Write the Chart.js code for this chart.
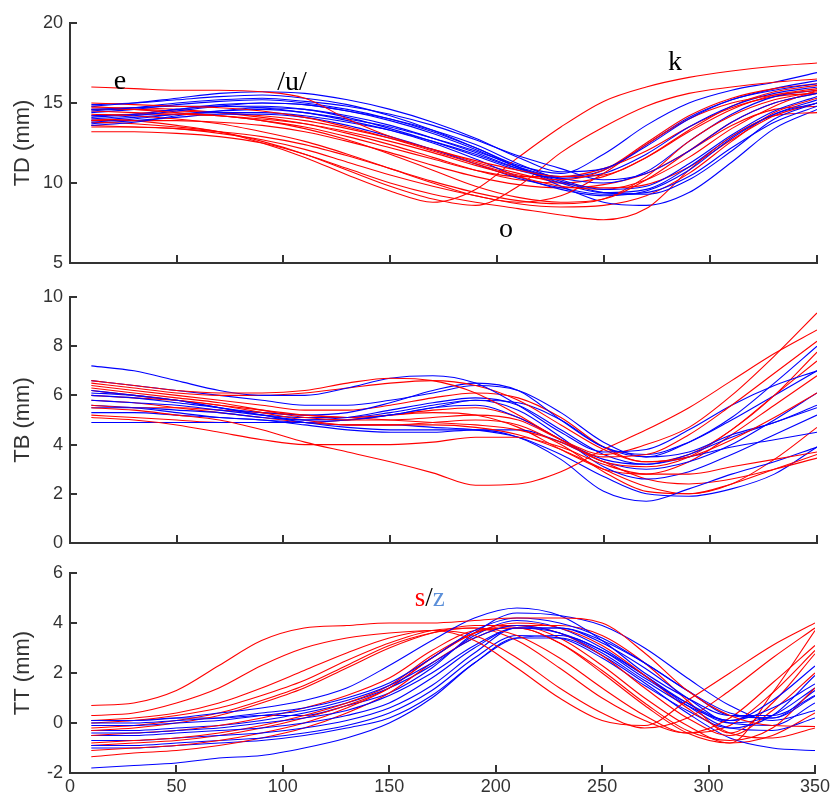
<!DOCTYPE html>
<html><head><meta charset="utf-8">
<script src="https://cdn.jsdelivr.net/npm/chart.js@4/dist/chart.umd.min.js"></script>
<style>
html,body{margin:0;padding:0;background:#fff;width:833px;height:793px;overflow:hidden}
canvas{position:absolute;left:0}
</style></head><body>
<canvas id="c1" style="top:0px" width="833" height="283"></canvas>
<canvas id="c2" style="top:278px" width="833" height="285"></canvas>
<canvas id="c3" style="top:555px" width="833" height="240"></canvas>
<script>
const xs = [10,30,50,70,90,110,130,150,170,190,210,230,250,270,290,310,330,350];
const xTicks = [0,50,100,150,200,250,300,350];
const tdTicks = [5,10,15,20];
const tbTicks = [0,2,4,6,8,10];
const ttTicks = [-2,0,2,4,6];

const tdRed = [
 [16.0,15.9,15.8,15.8,15.7,15.3,14.0,12.9,12.1,11.4,10.8,10.4,10.5,11.6,13.2,14.6,15.5,15.9],
 [15.0,14.9,14.8,14.7,14.5,14.1,13.5,12.8,12.0,11.2,10.5,10.2,10.8,12.5,14.2,15.3,15.9,16.2],
 [14.8,14.6,14.4,14.2,13.9,13.4,12.7,11.8,10.8,9.8,9.1,8.8,9.0,10.2,12.0,13.8,15.0,15.6],
 [14.5,14.4,14.3,14.2,14.0,13.7,13.2,12.6,11.9,11.1,10.4,9.8,9.6,10.2,11.6,13.4,14.8,15.8],
 [14.3,14.2,14.0,13.7,13.2,12.6,11.8,10.9,10.0,9.2,8.8,9.2,10.6,12.4,14.0,15.0,15.5,15.8],
 [14.0,13.9,13.6,13.2,12.5,11.6,10.5,9.5,8.8,9.6,11.6,13.5,15.1,16.0,16.6,17.0,17.3,17.5],
 [13.8,13.7,13.5,13.2,12.6,11.8,10.8,9.8,9.0,8.6,9.8,11.9,13.5,14.8,15.6,16.0,16.3,16.5],
 [13.6,13.5,13.4,13.2,12.9,12.4,11.7,10.9,10.1,9.4,8.9,8.7,9.0,10.4,12.6,14.2,15.2,15.7],
 [13.2,13.2,13.1,12.9,12.5,11.8,10.9,10.0,9.3,8.8,8.4,8.0,7.7,8.4,10.8,12.9,14.2,14.4],
 [13.9,13.9,13.9,13.8,13.6,13.2,12.6,11.9,11.1,10.4,9.9,9.7,9.9,10.6,12.0,13.6,14.6,14.8],
 [14.2,14.3,14.3,14.2,13.9,13.5,12.9,12.2,11.5,10.8,10.4,10.4,10.9,12.0,13.5,14.7,15.4,15.6],
 [14.6,14.6,14.5,14.4,14.2,13.9,13.4,12.8,12.1,11.3,10.6,10.0,9.7,9.9,11.0,12.7,14.2,15.0],
 [13.5,13.5,13.4,13.1,12.7,12.1,11.3,10.5,9.8,9.2,8.7,8.5,8.6,9.2,10.6,12.6,14.4,15.3],
 [14.7,14.7,14.6,14.4,14.1,13.7,13.1,12.4,11.6,10.8,10.2,10.0,10.4,11.6,13.3,14.8,15.7,16.1]
];
const tdBlue = [
 [14.8,15.0,15.3,15.6,15.7,15.6,15.2,14.6,13.8,12.8,11.6,10.7,10.9,12.3,14.0,15.2,15.8,16.2],
 [14.5,14.7,15.0,15.2,15.3,15.1,14.8,14.3,13.6,12.7,11.7,10.9,10.2,10.6,12.0,13.8,15.0,15.6],
 [14.0,14.2,14.5,14.8,15.0,14.9,14.5,14.0,13.3,12.4,11.2,10.2,9.6,9.8,11.2,13.0,14.5,15.4],
 [13.6,13.8,14.2,14.5,14.7,14.6,14.2,13.6,12.8,11.9,10.9,10.1,9.4,9.3,10.2,12.0,14.0,15.0],
 [14.2,14.3,14.6,14.8,14.8,14.6,14.1,13.4,12.6,11.7,10.8,10.3,10.6,11.8,13.5,14.8,15.6,16.0],
 [13.8,14.0,14.3,14.4,14.4,14.2,13.8,13.3,12.6,11.8,10.9,10.4,10.8,12.4,14.1,15.2,15.9,16.4],
 [14.6,14.7,14.8,14.8,14.7,14.4,13.9,13.3,12.5,11.5,10.4,9.6,9.2,9.5,10.8,12.8,14.3,15.0],
 [13.7,13.9,14.1,14.3,14.3,14.1,13.6,12.9,12.1,11.2,10.3,9.7,9.3,9.4,10.4,12.2,13.8,14.8],
 [14.1,14.3,14.6,14.9,15.0,14.9,14.5,13.9,13.1,12.1,11.0,10.3,10.0,10.7,12.6,14.3,15.4,15.8],
 [14.9,15.0,15.2,15.4,15.5,15.3,14.9,14.2,13.3,12.2,11.0,10.0,9.4,9.6,11.0,12.9,14.3,15.2],
 [13.9,14.1,14.3,14.5,14.6,14.4,14.0,13.5,12.8,12.0,11.0,9.8,8.8,8.6,9.4,11.3,13.4,14.6],
 [14.4,14.6,14.9,15.1,15.2,15.0,14.6,14.0,13.2,12.2,11.1,10.6,11.8,13.6,15.0,15.8,16.3,16.9]
];

const tbRed = [
 [6.6,6.4,6.2,6.1,6.1,6.2,6.5,6.7,6.6,6.1,5.2,4.2,3.5,3.6,4.4,5.6,6.9,8.2],
 [6.5,6.3,6.1,6.0,6.0,6.1,6.3,6.5,6.6,6.4,5.8,4.8,3.8,3.3,3.5,4.2,5.1,6.1],
 [6.3,6.1,5.9,5.7,5.4,5.1,5.0,5.0,5.1,5.2,5.0,4.2,3.6,4.0,4.7,6.0,7.6,9.35],
 [5.1,5.0,4.8,4.5,4.2,4.0,4.0,4.0,4.1,4.3,4.3,3.9,3.2,2.8,2.8,3.1,3.4,3.7],
 [5.5,5.4,5.2,5.0,4.6,4.1,3.7,3.3,2.85,2.35,2.4,2.9,3.8,4.6,5.5,6.6,7.7,8.66],
 [6.0,5.9,5.8,5.6,5.3,5.0,4.8,4.8,4.9,5.0,4.8,4.0,2.9,2.1,2.0,2.4,3.0,3.6],
 [6.2,6.0,5.8,5.6,5.4,5.2,5.1,5.2,5.4,5.5,5.1,4.2,3.3,3.1,3.5,4.6,6.0,7.4],
 [5.8,5.7,5.5,5.3,5.1,4.9,4.8,4.8,4.8,4.7,4.4,3.8,3.0,2.3,2.0,2.4,3.4,4.7],
 [5.6,5.5,5.5,5.4,5.3,5.2,5.1,5.0,4.9,4.8,4.6,4.1,3.3,2.6,2.4,2.6,3.0,3.45],
 [6.4,6.2,6.0,5.8,5.6,5.4,5.4,5.6,5.9,6.1,5.9,5.1,3.9,3.3,3.6,4.6,6.0,7.76],
 [5.2,5.1,5.0,4.9,4.9,4.9,5.0,5.2,5.3,5.2,4.7,3.8,3.0,2.8,3.3,4.4,5.6,6.8]
];
const tbBlue = [
 [7.2,7.0,6.6,6.2,6.0,6.0,6.3,6.7,6.8,6.5,5.6,4.5,3.7,3.8,4.6,5.6,6.4,7.0],
 [6.6,6.4,6.2,6.0,5.8,5.6,5.6,5.8,6.1,6.4,6.2,5.3,4.1,3.5,3.7,4.4,4.9,5.6],
 [6.2,6.0,5.8,5.5,5.2,5.0,5.0,5.2,5.5,5.6,5.1,4.2,3.4,3.2,3.6,4.3,4.9,5.5],
 [6.0,5.9,5.7,5.5,5.2,4.9,4.7,4.6,4.6,4.6,4.3,3.4,2.1,1.7,2.2,2.8,3.3,3.9],
 [5.5,5.5,5.4,5.3,5.1,5.0,5.1,5.4,5.7,5.9,5.6,4.6,3.6,3.2,3.5,3.9,4.2,4.5],
 [4.9,4.9,4.9,4.9,4.9,4.9,5.0,5.2,5.5,5.8,5.7,5.0,3.9,3.5,4.1,5.1,6.5,8.0],
 [5.8,5.7,5.6,5.4,5.2,5.1,5.1,5.3,5.6,5.8,5.4,4.3,3.1,2.6,2.9,3.6,4.4,5.2],
 [6.1,6.0,5.8,5.5,5.3,5.2,5.3,5.7,6.2,6.5,6.2,5.0,3.9,3.6,4.1,5.0,6.0,7.0],
 [5.3,5.3,5.2,5.1,5.0,4.9,4.8,4.8,4.7,4.6,4.3,3.6,2.7,2.0,1.9,2.2,2.8,3.9],
 [5.6,5.5,5.3,5.1,5.0,4.8,4.6,4.5,4.5,4.6,4.6,4.1,3.3,3.0,3.3,4.0,5.0,6.1]
];

const ttRed = [
 [0.7,0.8,1.3,2.3,3.3,3.8,3.9,4.0,4.0,4.1,4.2,4.2,4.0,2.8,1.3,0.3,-0.1,-0.14],
 [0.3,0.4,0.8,1.4,2.3,3.0,3.4,3.6,3.7,3.3,2.2,1.0,0.1,-0.1,0.9,2.0,3.1,4.0],
 [0.1,0.2,0.4,0.8,1.4,2.1,2.8,3.4,3.7,3.5,2.6,1.4,0.4,-0.2,0.2,1.3,2.6,3.8],
 [-0.2,-0.1,0.1,0.4,0.9,1.5,2.3,3.1,3.6,3.8,3.5,2.6,1.4,0.3,-0.4,0.2,1.6,3.1],
 [-0.5,-0.4,-0.3,-0.1,0.2,0.6,1.1,1.8,2.9,3.7,3.8,3.2,2.1,0.8,-0.3,-0.7,-0.2,1.4],
 [-0.8,-0.7,-0.6,-0.4,-0.1,0.3,0.8,1.5,2.7,3.6,3.9,3.6,2.7,1.4,0.2,-0.5,0.5,2.0],
 [-1.1,-1.0,-0.9,-0.7,-0.4,0.0,0.6,1.4,2.6,3.6,4.0,3.8,3.1,1.9,0.6,-0.4,-0.6,-0.2],
 [-1.35,-1.2,-1.1,-0.9,-0.6,-0.2,0.4,1.2,2.4,3.4,3.9,3.9,3.5,2.4,0.9,-0.4,0.8,2.77],
 [0.0,0.1,0.3,0.6,1.1,1.7,2.5,3.2,3.7,3.8,3.3,2.2,1.0,0.1,-0.4,-0.1,1.2,2.9],
 [-0.3,-0.2,0.0,0.3,0.8,1.4,2.2,3.0,3.6,3.9,3.9,3.4,2.3,1.0,-0.1,-0.8,-0.5,0.4],
 [-0.9,-0.8,-0.7,-0.5,-0.2,0.2,0.7,1.4,2.6,3.6,3.8,3.2,2.0,0.7,-0.4,-0.8,1.2,3.7]
];
const ttBlue = [
 [0.1,0.1,0.2,0.4,0.6,0.9,1.4,2.3,3.3,4.2,4.6,4.3,3.3,2.0,1.0,0.3,0.3,1.1],
 [0.0,0.0,0.1,0.2,0.4,0.6,1.0,1.6,2.6,3.7,4.2,4.0,3.4,2.4,1.3,0.4,0.2,1.07],
 [-0.1,-0.1,0.0,0.1,0.3,0.5,0.9,1.5,2.4,3.4,3.9,3.6,2.8,1.7,0.7,0.1,0.6,1.56],
 [-0.4,-0.4,-0.3,-0.2,0.0,0.2,0.5,1.1,2.0,3.1,3.8,3.6,2.9,1.8,0.8,0.1,0.9,2.28],
 [-0.5,-0.5,-0.4,-0.3,-0.2,0.0,0.3,0.8,1.8,3.0,3.8,3.8,3.3,2.4,1.3,0.3,0.2,1.3],
 [-0.7,-0.7,-0.6,-0.5,-0.4,-0.2,0.1,0.6,1.5,2.8,3.8,3.8,3.2,2.2,1.0,0.0,-0.1,0.8],
 [-0.9,-0.9,-0.8,-0.7,-0.6,-0.4,-0.1,0.4,1.3,2.6,3.5,3.4,2.6,1.5,0.5,-0.2,0.3,1.9],
 [-1.0,-1.0,-0.9,-0.8,-0.7,-0.5,-0.2,0.2,1.1,2.4,3.4,3.5,2.9,1.9,0.7,-0.2,-0.3,0.2],
 [-1.8,-1.7,-1.6,-1.4,-1.3,-1.0,-0.6,0.0,1.0,2.4,3.4,3.4,2.7,1.6,0.4,-0.6,-1.0,-1.1],
 [-0.3,-0.3,-0.2,-0.1,0.1,0.4,0.8,1.4,2.3,3.5,4.1,3.8,3.0,1.9,0.8,0.0,0.3,1.4],
 [0.1,0.1,0.2,0.2,0.3,0.3,0.7,1.2,2.2,3.6,4.4,4.3,3.9,3.0,1.8,0.7,0.1,0.5]
];

const RED = '#ff0000', BLUE = '#0000ff', AXIS = '#333333';

const axesPlugin = {
  id: 'axesInward',
  afterDraw(chart) {
    const {ctx, chartArea: a, scales: {x, y}} = chart;
    ctx.save();
    ctx.strokeStyle = AXIS; ctx.lineWidth = 2;
    ctx.beginPath();
    ctx.moveTo(a.left, a.top - 1); ctx.lineTo(a.left, a.bottom); ctx.lineTo(a.right + 1, a.bottom);
    y.ticks.forEach(t => { const p = Math.round(y.getPixelForValue(t.value)); ctx.moveTo(a.left, p); ctx.lineTo(a.left + 7, p); });
    x.ticks.forEach(t => { if (t.value === 0) return; const p = Math.round(x.getPixelForValue(t.value)); ctx.moveTo(p, a.bottom); ctx.lineTo(p, a.bottom - 8); });
    ctx.stroke();
    ctx.restore();
  }
};
const notesPlugin = {
  id: 'notes',
  afterDraw(chart, args, opts) {
    const {ctx, scales: {x, y}} = chart;
    (opts.items || []).forEach(it => {
      ctx.save();
      ctx.font = (it.size || 28) + 'px "Liberation Serif", "Times New Roman", serif';
      ctx.textBaseline = 'alphabetic';
      ctx.textAlign = 'left';
      const total = it.parts.reduce((s, p) => s + ctx.measureText(p.t).width, 0);
      let px = x.getPixelForValue(it.x) - total / 2;
      const py = y.getPixelForValue(it.y);
      it.parts.forEach(p => { ctx.fillStyle = p.c; ctx.fillText(p.t, px, py); px += ctx.measureText(p.t).width; });
      ctx.restore();
    });
  }
};

function build(id, reds, blues, yMin, yMax, yTicks, title, padTop, xH, showX, notes) {
  const datasets = [];
  const n = Math.max(reds.length, blues.length);
  for (let i = 0; i < n; i++) {
    if (reds[i]) datasets.push({data: xs.map((v, k) => ({x: v, y: reds[i][k]})), borderColor: RED});
    if (blues[i]) datasets.push({data: xs.map((v, k) => ({x: v, y: blues[i][k]})), borderColor: BLUE});
  }
  datasets.forEach(d => { d.borderWidth = 1.1; d.pointRadius = 0; d.fill = false; d.cubicInterpolationMode = 'monotone'; });
  const tickFont = {family: '"Liberation Sans", Arial, sans-serif', size: 18};
  return new Chart(document.getElementById(id), {
    type: 'line',
    data: {datasets},
    options: {
      responsive: false, animation: false, devicePixelRatio: 1,
      layout: {padding: {top: padTop, right: 16, left: 0, bottom: 0}},
      plugins: {legend: {display: false}, tooltip: {enabled: false}, notes: {items: notes}},
      scales: {
        x: {type: 'linear', min: 0, max: 350,
            grid: {display: false, drawTicks: false}, border: {display: false},
            afterBuildTicks: s => { s.ticks = xTicks.map(v => ({value: v})); },
            afterFit: s => { s.height = xH; },
            ticks: {display: showX, padding: 3, font: tickFont, color: AXIS, maxRotation: 0, autoSkip: false}},
        y: {type: 'linear', min: yMin, max: yMax,
            grid: {display: false, drawTicks: false}, border: {display: false},
            afterBuildTicks: s => { s.ticks = yTicks.map(v => ({value: v})); },
            afterFit: s => { s.width = 70; },
            ticks: {padding: 7, font: tickFont, color: AXIS},
            title: {display: true, text: title, color: AXIS, font: {family: '"Liberation Sans", Arial, sans-serif', size: 22}, padding: {top: 10, bottom: 0}}}
      }
    },
    plugins: [axesPlugin, notesPlugin]
  });
}

build('c1', tdRed, tdBlue, 5, 20, tdTicks, 'TD (mm)', 23, 20, false, [
  {x: 23.4, y: 15.9, parts: [{t: 'e', c: '#000'}]},
  {x: 104, y: 15.8, parts: [{t: '/u/', c: '#000'}]},
  {x: 283.5, y: 17.05, parts: [{t: 'k', c: '#000'}]},
  {x: 204.3, y: 6.65, parts: [{t: 'o', c: '#000'}]}
]);
build('c2', tbRed, tbBlue, 0, 10, tbTicks, 'TB (mm)', 19, 20, false, []);
build('c3', ttRed, ttBlue, -2, 6, ttTicks, 'TT (mm)', 18, 22, true, [
  {x: 169, y: 4.68, size: 27, parts: [{t: 's', c: '#ff0000'}, {t: '/', c: '#000'}, {t: 'z', c: '#5b8fd9'}]}
]);
</script>
</body></html>
